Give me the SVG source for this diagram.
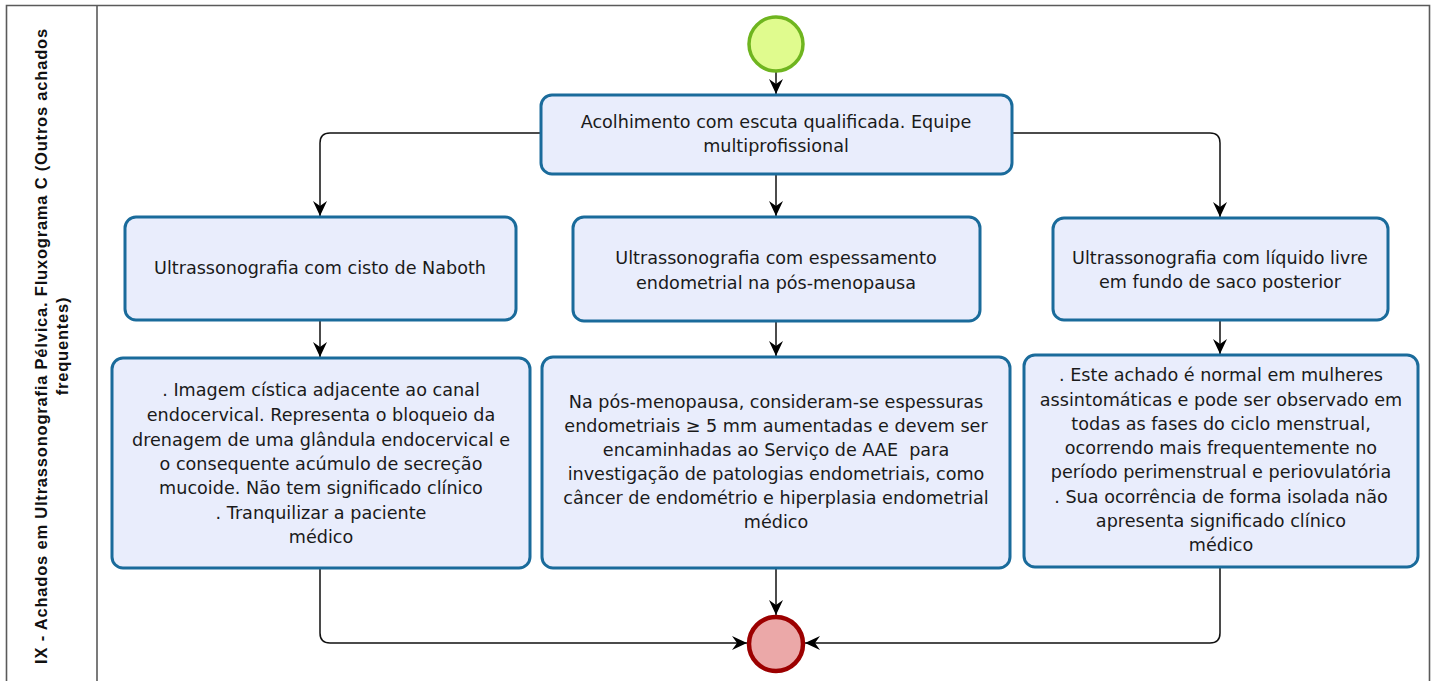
<svg xmlns="http://www.w3.org/2000/svg" width="1437" height="681" viewBox="0 0 1437 681">
<style>
.bg{fill:#ffffff}
.frame{fill:none;stroke:#5a5a5a;stroke-width:1.6}
.box{fill:#e9edfc;stroke:#1a6b9b;stroke-width:3}
.t{font-family:"DejaVu Sans","Open Sans",sans-serif;font-size:17.6px;fill:#1a1a1a;text-anchor:middle}
.lane{font-family:"Liberation Sans",Arial,sans-serif;font-size:16.5px;font-weight:bold;letter-spacing:0.8px;fill:#111;text-anchor:middle}
.conn{fill:none;stroke:#111;stroke-width:1.5}
.start{fill:#e0fb8e;stroke:#6fb51f;stroke-width:3.5}
.end{fill:#eba8a8;stroke:#9c0000;stroke-width:4.5}
</style>
<defs>
<marker id="arr" markerUnits="userSpaceOnUse" markerWidth="16" markerHeight="16" viewBox="0 0 16 16" refX="15" refY="8" orient="auto">
<path d="M0,1 L15,8 L0,15 L5,8 z" fill="#000"/>
</marker>
</defs>
<rect class="bg" x="0" y="0" width="1437" height="681"/>
<g id="pool">
<path class="frame" d="M6.5,700 V5.5 H1429.5 V700"/>
<line class="frame" x1="97" y1="5.5" x2="97" y2="700"/>
<text class="lane" transform="translate(47,346) rotate(-90)"><tspan x="0" y="0">IX - Achados em Ultrassonografia Pélvica. Fluxograma C (Outros achados</tspan><tspan x="0" y="21">frequentes)</tspan></text>
</g>
<g id="connectors">
<path class="conn" d="M776,72 V94" marker-end="url(#arr)"/>
<path class="conn" d="M541,133 H330 Q320,133 320,143 V216" marker-end="url(#arr)"/>
<path class="conn" d="M776,174 V216" marker-end="url(#arr)"/>
<path class="conn" d="M1012,133 H1210 Q1220,133 1220,143 V217" marker-end="url(#arr)"/>
<path class="conn" d="M320,320 V357" marker-end="url(#arr)"/>
<path class="conn" d="M776,321 V356" marker-end="url(#arr)"/>
<path class="conn" d="M1220,320 V354" marker-end="url(#arr)"/>
<path class="conn" d="M320,568 V633 Q320,643 330,643 H747" marker-end="url(#arr)"/>
<path class="conn" d="M776,568 V615" marker-end="url(#arr)"/>
<path class="conn" d="M1220,567 V633 Q1220,643 1210,643 H805" marker-end="url(#arr)"/>
</g>
<g id="start"><circle class="start" cx="776" cy="44" r="27"/></g>
<g id="end"><circle class="end" cx="776" cy="644" r="27"/></g>
<g id="acolhimento">
<rect class="box" x="541" y="95" width="471" height="79" rx="11"/>
<text class="t"><tspan x="776" y="128">Acolhimento com escuta qualificada. Equipe</tspan><tspan x="776" y="152">multiprofissional</tspan></text>
</g>
<g id="naboth">
<rect class="box" x="125" y="217" width="391" height="103" rx="11"/>
<text class="t"><tspan x="320" y="274">Ultrassonografia com cisto de Naboth</tspan></text>
</g>
<g id="espessamento">
<rect class="box" x="573" y="217" width="407" height="104" rx="11"/>
<text class="t"><tspan x="776" y="264">Ultrassonografia com espessamento</tspan><tspan x="776" y="289">endometrial na pós-menopausa</tspan></text>
</g>
<g id="liquido">
<rect class="box" x="1053" y="218" width="335" height="102" rx="11"/>
<text class="t"><tspan x="1220" y="264">Ultrassonografia com líquido livre</tspan><tspan x="1220" y="288">em fundo de saco posterior</tspan></text>
</g>
<g id="naboth-detalhe">
<rect class="box" x="112" y="358" width="418" height="210" rx="11"/>
<text class="t"><tspan x="321" y="396">. Imagem cística adjacente ao canal</tspan><tspan x="321" y="421">endocervical. Representa o bloqueio da</tspan><tspan x="321" y="446">drenagem de uma glândula endocervical e</tspan><tspan x="321" y="470">o consequente acúmulo de secreção</tspan><tspan x="321" y="494">mucoide. Não tem significado clínico</tspan><tspan x="321" y="519">. Tranquilizar a paciente</tspan><tspan x="321" y="543">médico</tspan></text>
</g>
<g id="espessamento-detalhe">
<rect class="box" x="542" y="357" width="468" height="211" rx="11"/>
<text class="t" xml:space="preserve"><tspan x="776" y="408">Na pós-menopausa, consideram-se espessuras</tspan><tspan x="776" y="432">endometriais ≥ 5 mm aumentadas e devem ser</tspan><tspan x="776" y="456">encaminhadas ao Serviço de AAE  para</tspan><tspan x="776" y="480">investigação de patologias endometriais, como</tspan><tspan x="776" y="504">câncer de endométrio e hiperplasia endometrial</tspan><tspan x="776" y="528">médico</tspan></text>
</g>
<g id="liquido-detalhe">
<rect class="box" x="1024" y="355" width="394" height="212" rx="11"/>
<text class="t"><tspan x="1221" y="381">. Este achado é normal em mulheres</tspan><tspan x="1221" y="406">assintomáticas e pode ser observado em</tspan><tspan x="1221" y="430">todas as fases do ciclo menstrual,</tspan><tspan x="1221" y="454">ocorrendo mais frequentemente no</tspan><tspan x="1221" y="478">período perimenstrual e periovulatória</tspan><tspan x="1221" y="503">. Sua ocorrência de forma isolada não</tspan><tspan x="1221" y="527">apresenta significado clínico</tspan><tspan x="1221" y="551">médico</tspan></text>
</g>
</svg>
